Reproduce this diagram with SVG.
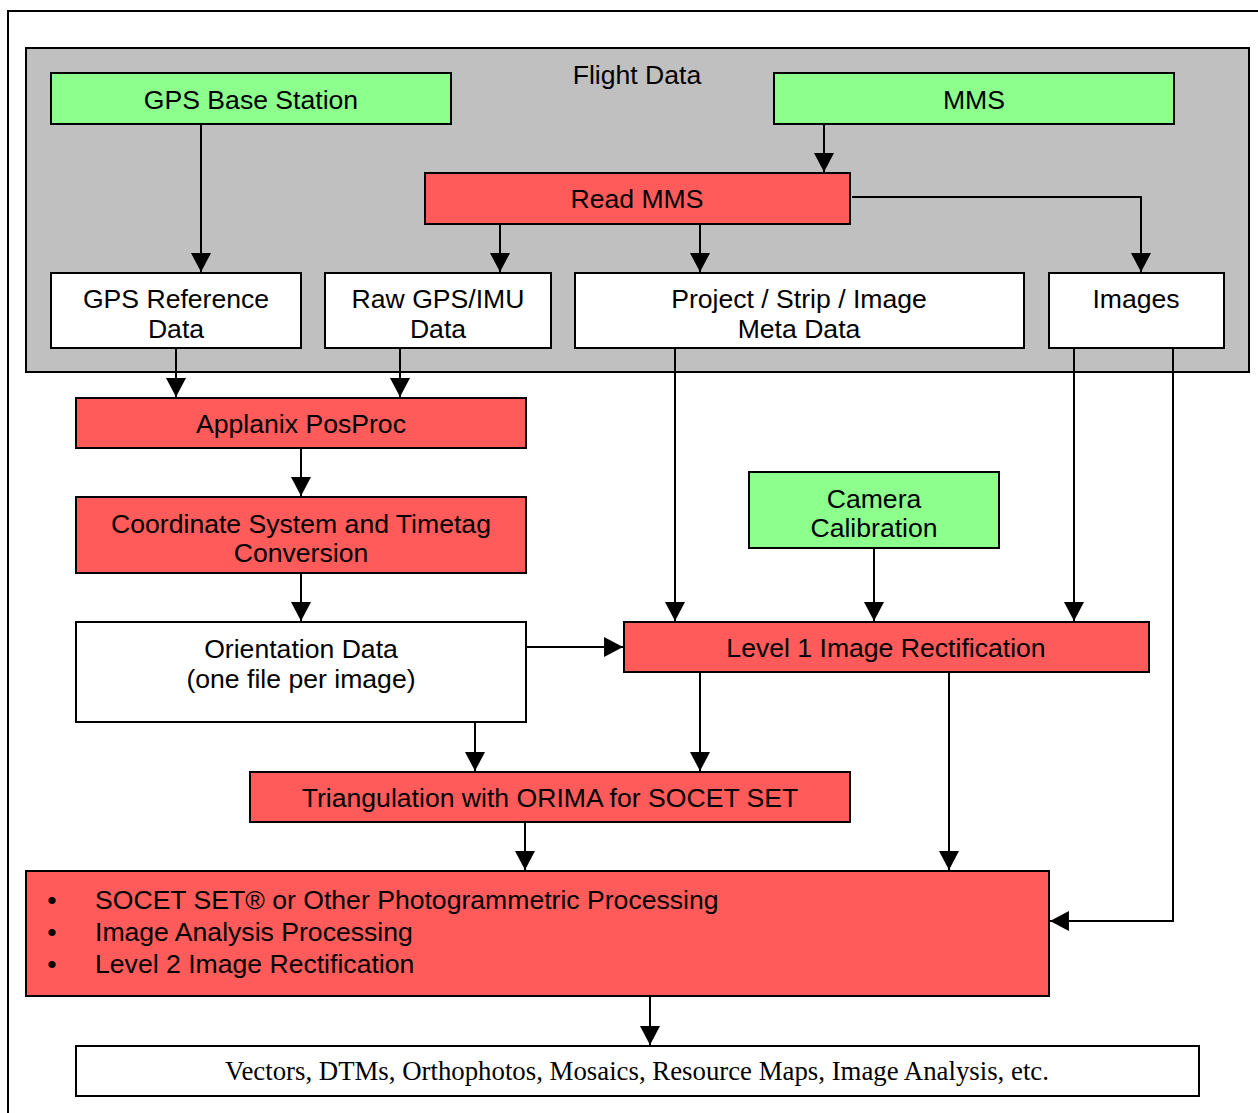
<svg xmlns="http://www.w3.org/2000/svg" width="1258" height="1113" viewBox="0 0 1258 1113">
<style>
.box{stroke:#000;stroke-width:2}
.g{fill:#8cff8c}.r{fill:#ff5b5b}.w{fill:#fff}
text{font-family:"Liberation Sans",Arial,sans-serif;font-size:26.6px;fill:#000}
.c{text-anchor:middle}
.tm{font-family:"Liberation Serif","Times New Roman",serif;font-size:26.8px}
.cn path{fill:none;stroke:#000;stroke-width:2;marker-end:url(#ah)}
</style>
<defs>
<marker id="ah" markerUnits="userSpaceOnUse" markerWidth="20" markerHeight="20" viewBox="0 0 18 19" refX="18" refY="9.5" orient="auto">
<path d="M0,0 L18,9.5 L0,19 Z" fill="#000"/>
</marker>
</defs>
<rect x="0" y="0" width="1258" height="1113" fill="#fff"/>
<rect x="8" y="11" width="1270" height="1120" fill="none" stroke="#000" stroke-width="2"/>
<g id="flight-data">
<rect x="26" y="48" width="1223" height="324" fill="#c0c0c0" class="box"/>
<text x="637" y="84" class="c">Flight Data</text>
</g>
<g id="gps-base"><rect x="51" y="73" width="400" height="51" class="box g"/><text x="251" y="109" class="c">GPS Base Station</text></g>
<g id="mms"><rect x="774" y="73" width="400" height="51" class="box g"/><text x="974" y="109" class="c">MMS</text></g>
<g id="read-mms"><rect x="425" y="173" width="425" height="51" class="box r"/><text x="637" y="208" class="c">Read MMS</text></g>
<g id="gps-ref"><rect x="51" y="273" width="250" height="75" class="box w"/><text x="176" y="308" class="c">GPS Reference</text><text x="176" y="338" class="c">Data</text></g>
<g id="raw-gps"><rect x="325" y="273" width="226" height="75" class="box w"/><text x="438" y="308" class="c">Raw GPS/IMU</text><text x="438" y="338" class="c">Data</text></g>
<g id="meta"><rect x="575" y="273" width="449" height="75" class="box w"/><text x="799" y="308" class="c">Project / Strip / Image</text><text x="799" y="338" class="c">Meta Data</text></g>
<g id="images"><rect x="1049" y="273" width="175" height="75" class="box w"/><text x="1136" y="308" class="c">Images</text></g>
<g id="applanix"><rect x="76" y="398" width="450" height="50" class="box r"/><text x="301" y="433" class="c">Applanix PosProc</text></g>
<g id="coord"><rect x="76" y="497" width="450" height="76" class="box r"/><text x="301" y="533" class="c">Coordinate System and Timetag</text><text x="301" y="562" class="c">Conversion</text></g>
<g id="orientation"><rect x="76" y="622" width="450" height="100" class="box w"/><text x="301" y="658" class="c">Orientation Data</text><text x="301" y="688" class="c">(one file per image)</text></g>
<g id="camera"><rect x="749" y="472" width="250" height="76" class="box g"/><text x="874" y="508" class="c">Camera</text><text x="874" y="537" class="c">Calibration</text></g>
<g id="level1"><rect x="624" y="622" width="525" height="50" class="box r"/><text x="886" y="657" class="c">Level 1 Image Rectification</text></g>
<g id="triangulation"><rect x="250" y="772" width="600" height="50" class="box r"/><text x="550" y="807" class="c">Triangulation with ORIMA for SOCET SET</text></g>
<g id="processing"><rect x="26" y="871" width="1023" height="125" class="box r"/>
<text x="52" y="909" class="c">•</text><text x="95" y="909">SOCET SET® or Other Photogrammetric Processing</text>
<text x="52" y="941" class="c">•</text><text x="95" y="941">Image Analysis Processing</text>
<text x="52" y="973" class="c">•</text><text x="95" y="973">Level 2 Image Rectification</text>
</g>
<g id="output"><rect x="76" y="1046" width="1123" height="50" class="box w"/><text x="637" y="1080" class="c tm">Vectors, DTMs, Orthophotos, Mosaics, Resource Maps, Image Analysis, etc.</text></g>
<g id="connectors" class="cn">
<path d="M201,124 V272"/>
<path d="M824,124 V172"/>
<path d="M500,224 V272"/>
<path d="M700,224 V272"/>
<path d="M852,197 H1141 V272"/>
<path d="M176,348 V397"/>
<path d="M400,348 V397"/>
<path d="M301,448 V496"/>
<path d="M301,573 V621"/>
<path d="M526,647 H623"/>
<path d="M675,348 V621"/>
<path d="M874,548 V621"/>
<path d="M1074,348 V621"/>
<path d="M1173,348 V921 H1050"/>
<path d="M475,722 V771"/>
<path d="M700,672 V771"/>
<path d="M949,672 V870"/>
<path d="M525,822 V870"/>
<path d="M650,996 V1045"/>
</g>
</svg>
